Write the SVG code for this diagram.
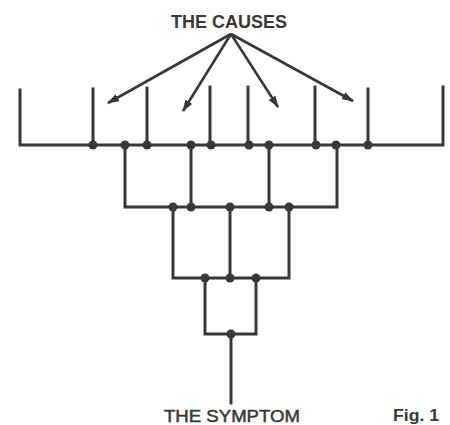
<svg xmlns="http://www.w3.org/2000/svg" width="450" height="425" viewBox="0 0 450 425">
<style>
.w{fill:none;stroke:#383838;stroke-width:3;stroke-linecap:square;stroke-linejoin:miter}
.a{fill:none;stroke:#383838;stroke-width:2.6}
.d{fill:#383838}
.t{font-family:"Liberation Sans",Arial,sans-serif;fill:#383838}
</style>
<defs>
<marker id="ah" viewBox="0 0 12 8" refX="11" refY="4" markerWidth="12" markerHeight="8" markerUnits="userSpaceOnUse" orient="auto">
<path d="M0,0 L12,4 L0,8 Z" fill="#383838"/>
</marker>
</defs>
<rect width="450" height="425" fill="#fff"/>
<g id="label-causes"><text class="t" x="229" y="28" font-size="18" font-weight="bold" text-anchor="middle">THE CAUSES</text></g>
<g id="connectors">
<path class="a" d="M231,34 L108,103" marker-end="url(#ah)"/>
<path class="a" d="M231,34 L183,111" marker-end="url(#ah)"/>
<path class="a" d="M231,34 L278,107" marker-end="url(#ah)"/>
<path class="a" d="M231,34 L353,101" marker-end="url(#ah)"/>
</g>
<g id="tree">
<path class="w" d="M20,90 V145 H443 V87"/>
<path class="w" d="M93,89 V145 M147,88 V145 M210,87 V145 M248,87 V145 M315,87 V145 M368,89 V145"/>
<path class="w" d="M125,145 V207 H337 V145 M191,145 V207 M269,145 V207"/>
<path class="w" d="M173,207 V278 H289 V207 M230,207 V278"/>
<path class="w" d="M205,278 V334 H256 V278"/>
<path class="w" d="M231,334 V403"/>
</g>
<g id="dots" class="d">
<circle cx="93" cy="145" r="4.5"/><circle cx="125" cy="145" r="4.5"/><circle cx="147" cy="145" r="4.5"/>
<circle cx="191" cy="145" r="4.5"/><circle cx="211" cy="145" r="4.5"/><circle cx="249" cy="145" r="4.5"/>
<circle cx="269" cy="145" r="4.5"/><circle cx="316" cy="145" r="4.5"/><circle cx="336" cy="145" r="4.5"/>
<circle cx="368" cy="145" r="4.5"/>
<circle cx="173" cy="207" r="4.5"/><circle cx="191" cy="207" r="4.5"/><circle cx="230" cy="207" r="4.5"/>
<circle cx="269" cy="207" r="4.5"/><circle cx="289" cy="207" r="4.5"/>
<circle cx="205" cy="278" r="4.5"/><circle cx="230" cy="278" r="4.5"/><circle cx="256" cy="278" r="4.5"/>
<circle cx="231" cy="334" r="4.5"/>
</g>
<g id="label-symptom"><text class="t" x="164" y="422" font-size="17" stroke="#383838" stroke-width="0.5" textLength="136" lengthAdjust="spacingAndGlyphs">THE SYMPTOM</text></g>
<g id="label-fig"><text class="t" x="393" y="421" font-size="16" font-weight="bold" textLength="46" lengthAdjust="spacingAndGlyphs">Fig. 1</text></g>
</svg>
